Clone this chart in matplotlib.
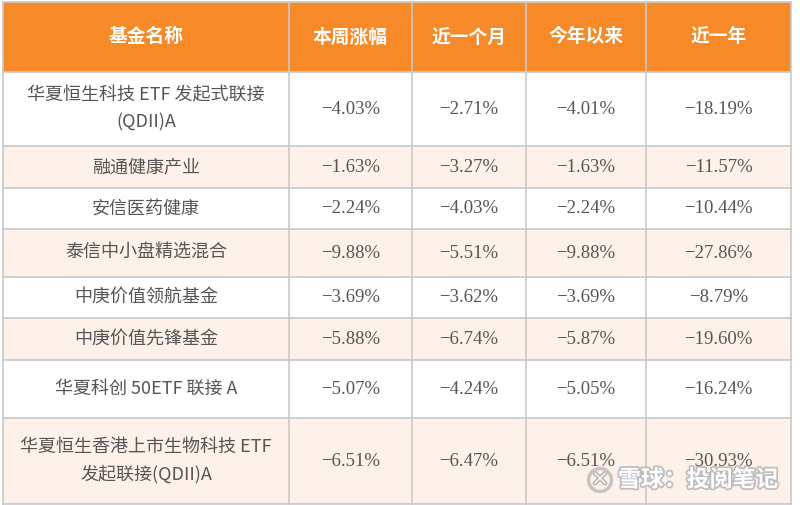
import matplotlib
matplotlib.use("Agg")
import matplotlib.pyplot as plt
from matplotlib.patches import Rectangle, Circle
import matplotlib.patheffects as pe

plt.rcParams['font.family'] = ['Noto Sans CJK SC', 'DejaVu Sans']

headers = ["基金名称", "本周涨幅", "近一个月", "今年以来", "近一年"]
fund_names = [
    "华夏恒生科技 ETF 发起式联接\n(QDII)A",
    "融通健康产业",
    "安信医药健康",
    "泰信中小盘精选混合",
    "中庚价值领航基金",
    "中庚价值先锋基金",
    "华夏科创 50ETF 联接 A",
    "华夏恒生香港上市生物科技 ETF\n发起联接(QDII)A",
]
week_chg = ["-4.03%", "-1.63%", "-2.24%", "-9.88%", "-3.69%", "-5.88%", "-5.07%", "-6.51%"]
month_chg = ["-2.71%", "-3.27%", "-4.03%", "-5.51%", "-3.62%", "-6.74%", "-4.24%", "-6.47%"]
ytd_chg = ["-4.01%", "-1.63%", "-2.24%", "-9.88%", "-3.69%", "-5.87%", "-5.05%", "-6.51%"]
year_chg = ["-18.19%", "-11.57%", "-10.44%", "-27.86%", "-8.79%", "-19.60%", "-16.24%", "-30.93%"]

# layout (pixels)
col_edges = [3, 289, 412, 526, 646, 791]
row_edges = [2, 72, 146, 188, 229, 277, 318, 360, 418, 504]

HEADER_BG = "#F68A28"
ALT_BG = "#FDF1E9"
GRID = "#C9C9CC"
TEXT = "#555555"

fig = plt.figure(figsize=(8, 5.05), dpi=100)
ax = fig.add_axes([0, 0, 1, 1])
ax.set_xlim(0, 800)
ax.set_ylim(505, 0)
ax.axis("off")

columns = [fund_names, week_chg, month_chg, ytd_chg, year_chg]
nrows = len(fund_names)

# backgrounds
for r in range(nrows + 1):
    y0, y1 = row_edges[r], row_edges[r + 1]
    if r == 0:
        fc = HEADER_BG
    elif r % 2 == 0:
        fc = ALT_BG
    else:
        fc = "white"
    ax.add_patch(Rectangle((col_edges[0], y0), col_edges[-1] - col_edges[0], y1 - y0,
                           facecolor=fc, edgecolor="none", zorder=1))

# grid lines
for x in col_edges:
    ax.plot([x, x], [row_edges[0], row_edges[-1]], color=GRID, lw=1.2, zorder=2)
for y in row_edges:
    ax.plot([col_edges[0], col_edges[-1]], [y, y], color=GRID, lw=1.2, zorder=2)

# header text
for c, h in enumerate(headers):
    xc = (col_edges[c] + col_edges[c + 1]) / 2
    yc = (row_edges[0] + row_edges[1]) / 2
    ax.text(xc, yc, h, ha="center", va="center", color="white", fontsize=13.5,
            fontweight="bold", zorder=3)

# body text
for c, col in enumerate(columns):
    xc = (col_edges[c] + col_edges[c + 1]) / 2
    for r, val in enumerate(col):
        yc = (row_edges[r + 1] + row_edges[r + 2]) / 2
        if c == 0:
            ax.text(xc, yc, val, ha="center", va="center", color=TEXT, fontsize=13,
                    fontweight="light", linespacing=1.6, zorder=3)
        else:
            ax.text(xc, yc, val.replace("-", "\u2212"), ha="center", va="center", color=TEXT,
                    fontsize=13.5, family=["Liberation Serif", "Noto Sans CJK SC"], zorder=3)

# watermark
ax.add_patch(Circle((600, 480), 11.5, facecolor="none", edgecolor="#BBBBBB", lw=2.5, zorder=4, alpha=0.8))
ax.text(600, 480, "×", ha="center", va="center", fontsize=13, color="white", zorder=5,
        path_effects=[pe.withStroke(linewidth=2.5, foreground="#BBBBBB")])
ax.text(698, 480, "雪球：投阅笔记", ha="center", va="center", fontsize=16.5, color="white",
        fontweight="bold", zorder=5,
        path_effects=[pe.withStroke(linewidth=2.5, foreground="#BDBDBD")])

fig.savefig("out.png", dpi=100)
